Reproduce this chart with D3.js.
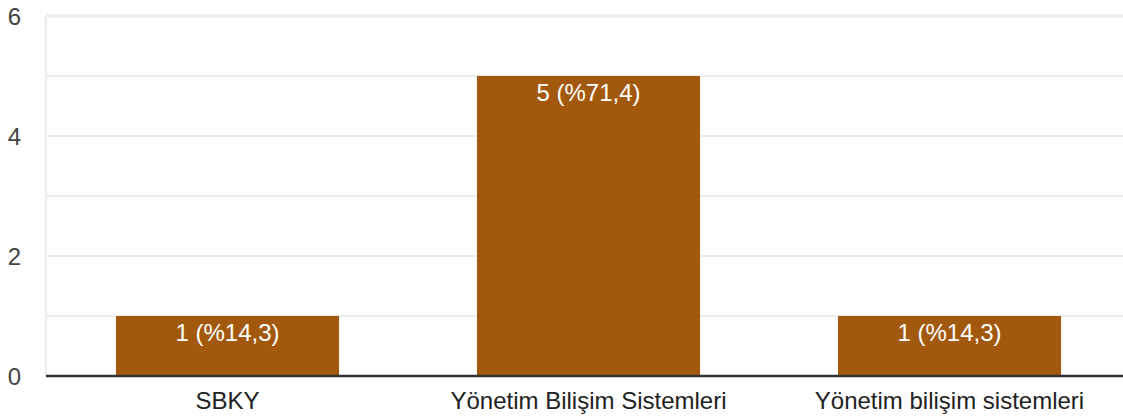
<!DOCTYPE html>
<html>
<head>
<meta charset="utf-8">
<script src="https://cdn.jsdelivr.net/npm/d3@7"></script>
<style>
  body { margin: 0; background: #fff; }
  svg { display: block; font-family: "Liberation Sans", Arial, sans-serif; }
</style>
</head>
<body>
<svg id="chart" width="1123" height="419"></svg>
<script>

// data
var categories = ["SBKY", "Yönetim Bilişim Sistemleri", "Yönetim bilişim sistemleri"];
var values = [1, 5, 1];
var valueLabels = ["1 (%14,3)", "5 (%71,4)", "1 (%14,3)"];
var yTicks = [0, 2, 4, 6];
var yGrid = [0, 1, 2, 3, 4, 5, 6];

var svg = d3.select("#chart");

// scales
var x = d3.scaleBand()
    .domain(categories)
    .range([47, 1130])
    .paddingInner(0.382)
    .paddingOuter(0.191);

var y = d3.scaleLinear()
    .domain([0, 6])
    .range([376, 16]);

// grid lines
svg.append("g")
    .selectAll("line")
    .data(yGrid)
    .join("line")
    .attr("x1", 46)
    .attr("x2", 1123)
    .attr("y1", d => y(d))
    .attr("y2", d => y(d))
    .attr("stroke", "#ececec")
    .attr("stroke-width", d => d == 6 ? 3 : 2);

// left vertical line
svg.append("line")
    .attr("x1", 46)
    .attr("x2", 46)
    .attr("y1", y(6))
    .attr("y2", y(0))
    .attr("stroke", "#ececec")
    .attr("stroke-width", 2);

// y tick labels
svg.append("g")
    .selectAll("text")
    .data(yTicks)
    .join("text")
    .attr("x", 21)
    .attr("y", d => y(d) + 9)
    .attr("text-anchor", "end")
    .attr("font-size", "24px")
    .attr("fill", "#444")
    .text(d => d);

// bars
svg.append("g")
    .selectAll("rect")
    .data(values)
    .join("rect")
    .attr("x", (d, i) => x(categories[i]))
    .attr("y", d => y(d))
    .attr("width", x.bandwidth())
    .attr("height", d => y(0) - y(d))
    .attr("fill", "#a2590d");

// value labels
svg.append("g")
    .selectAll("text")
    .data(values)
    .join("text")
    .attr("x", (d, i) => x(categories[i]) + x.bandwidth() / 2)
    .attr("y", d => y(d) + 25)
    .attr("text-anchor", "middle")
    .attr("font-size", "24px")
    .attr("fill", "#fff")
    .text((d, i) => valueLabels[i]);

// baseline
svg.append("line")
    .attr("x1", 46)
    .attr("x2", 1123)
    .attr("y1", y(0))
    .attr("y2", y(0))
    .attr("stroke", "#333")
    .attr("stroke-width", 2.5);

// category labels
svg.append("g")
    .selectAll("text")
    .data(categories)
    .join("text")
    .attr("x", d => x(d) + x.bandwidth() / 2)
    .attr("y", 409)
    .attr("text-anchor", "middle")
    .attr("font-size", "24px")
    .attr("fill", "#222")
    .text(d => d);

</script>
</body>
</html>
